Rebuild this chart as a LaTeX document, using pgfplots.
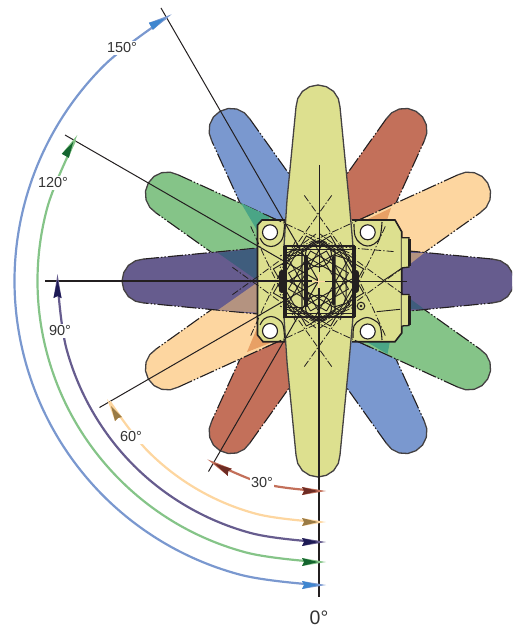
\documentclass[border=0pt]{standalone}
\usepackage{fontspec}
\usepackage{pgfplots}
\pgfplotsset{compat=1.18}
\setmainfont{Liberation Sans}
\definecolor{wingyellow}{HTML}{DDE08F}
\definecolor{wingred}{HTML}{C3705A}
\definecolor{wingpeach}{HTML}{FDD6A0}
\definecolor{wingpurple}{HTML}{665C8E}
\definecolor{winggreen}{HTML}{85C488}
\definecolor{wingblue}{HTML}{7A98CF}
\definecolor{ink}{HTML}{231F20}
\definecolor{label}{HTML}{333333}
\definecolor{HTMLteal}{HTML}{4AA586}
\definecolor{HTMLslate}{HTML}{3F5D7D}
\definecolor{HTMLtan}{HTML}{B49380}
\definecolor{HTMLorange}{HTML}{E8A065}
\definecolor{HTMLdarkred}{HTML}{6E2C24}
\definecolor{HTMLdarkpeach}{HTML}{9A7B45}
\definecolor{HTMLdarkpurple}{HTML}{1D1A55}
\definecolor{HTMLdarkgreen}{HTML}{14652F}
\definecolor{HTMLdarkblue}{HTML}{3F86CF}
% one lobe: colour, first side, cap, second side
\newcommand\lobe[4]{%
  \addplot[fill=#1,draw=none] coordinates {#2 #3 #4} --cycle;
  \addplot[ink,line width=1.1pt,line join=round,
    dash pattern=on 15pt off 2pt on 1.5pt off 2pt on 1.5pt off 2pt] coordinates {#2};
  \addplot[ink!85,line width=1.3pt,line join=round] coordinates {#3};
  \addplot[ink,line width=1.1pt,line join=round,
    dash pattern=on 15pt off 2pt on 1.5pt off 2pt on 1.5pt off 2pt] coordinates {#4};
}
% arc with arrow head: colour, dark colour, arc, head, inner head
\newcommand\arcarrow[5]{%
  \addplot[#1,line width=2.2pt,smooth,tension=0.608] coordinates {#3};
  \addplot[fill=#1,draw=none] coordinates {#4} --cycle;
  \addplot[fill=#2,draw=none] coordinates {#5} --cycle;
}
\newcommand\seg[1]{\addplot[ink,line width=0.9pt] coordinates {#1};}
\newcommand\dseg[1]{\addplot[ink,line width=0.8pt,dash pattern=on 7pt off 2pt on 1.5pt off 2pt] coordinates {#1};}
\begin{document}
\begin{tikzpicture}
\begin{axis}[
  scale only axis,width=512pt,height=628pt,
  xmin=0,xmax=512,ymin=0,ymax=628,y dir=reverse,
  hide axis,
]
% keeps the page at the full 512 by 628
\addplot[white,line width=0pt] coordinates {(0,0)(512,0)(512,628)(0,628)(0,0)};
% lobes
\lobe{wingred}{(372.4,254.7)(385.3,226.4)(424.1,141.3)}{(424.1,141.3)(426.8,133.2)(426.3,124.6)(422.5,116.9)(416,111.3)(407.9,108.5)(399.3,109)(391.6,112.8)(385.9,119.3)}{(385.9,119.3)(331.7,195.4)(313.6,220.7)}
\lobe{wingred}{(263.6,307.3)(250.7,335.6)(211.9,420.7)}{(211.9,420.7)(209.2,428.8)(209.7,437.4)(213.5,445.1)(220,450.7)(228.1,453.5)(236.7,453)(244.4,449.2)(250.1,442.7)}{(250.1,442.7)(304.3,366.6)(322.4,341.3)}
\lobe{wingblue}{(263.6,254.7)(250.7,226.4)(211.9,141.3)}{(211.9,141.3)(209.2,133.2)(209.7,124.6)(213.5,116.9)(220,111.3)(228.1,108.5)(236.7,109)(244.4,112.8)(250.1,119.3)}{(250.1,119.3)(304.3,195.4)(322.4,220.7)}
\lobe{wingblue}{(372.4,307.3)(385.3,335.6)(424.1,420.7)}{(424.1,420.7)(426.8,428.8)(426.3,437.4)(422.5,445.1)(416,450.7)(407.9,453.5)(399.3,453)(391.6,449.2)(385.9,442.7)}{(385.9,442.7)(331.7,366.6)(313.6,341.3)}
\lobe{wingpeach}{(378.3,285.4)(403.6,267.3)(479.7,213.1)}{(479.7,213.1)(486.2,207.4)(490,199.7)(490.5,191.1)(487.7,183)(482.1,176.5)(474.4,172.7)(465.8,172.2)(457.7,174.9)}{(457.7,174.9)(372.6,213.7)(344.3,226.6)}
\lobe{wingpeach}{(257.7,276.6)(232.4,294.7)(156.3,348.9)}{(156.3,348.9)(149.8,354.6)(146,362.3)(145.5,370.9)(148.3,379)(153.9,385.5)(161.6,389.3)(170.2,389.8)(178.3,387.1)}{(178.3,387.1)(263.4,348.3)(291.7,335.4)}
\lobe{winggreen}{(257.7,285.4)(232.4,267.3)(156.3,213.1)}{(156.3,213.1)(149.8,207.4)(146,199.7)(145.5,191.1)(148.3,183)(153.9,176.5)(161.6,172.7)(170.2,172.2)(178.3,174.9)}{(178.3,174.9)(263.4,213.7)(291.7,226.6)}
\lobe{winggreen}{(378.3,276.6)(403.6,294.7)(479.7,348.9)}{(479.7,348.9)(486.2,354.6)(490,362.3)(490.5,370.9)(487.7,379)(482.1,385.5)(474.4,389.3)(465.8,389.8)(457.7,387.1)}{(457.7,387.1)(372.6,348.3)(344.3,335.4)}
\lobe{wingpurple}{(368,315)(399,312)(492,303)}{(492,303)(500.4,301.3)(507.6,296.6)(512.3,289.4)(514,281)(512.3,272.6)(507.6,265.4)(500.4,260.7)(492,259)}{(492,259)(399,250)(368,247)}
\lobe{wingpurple}{(268,315)(237,312)(144,303)}{(144,303)(135.6,301.3)(128.4,296.6)(123.7,289.4)(122,281)(123.7,272.6)(128.4,265.4)(135.6,260.7)(144,259)}{(144,259)(237,250)(268,247)}
% overlaps
\addplot[fill=HTMLteal,draw=none] coordinates {(241,203)(270,217)(258,232)} --cycle;
\addplot[fill=HTMLteal,draw=none] coordinates {(365,341)(390,341)(387.5,354)} --cycle;
\addplot[fill=HTMLslate,draw=none] coordinates {(218,253)(262,248)(262,285)(258,281)} --cycle;
\addplot[fill=HTMLslate,draw=none] coordinates {(405,295)(424,309)(405,309)} --cycle;
\addplot[fill=HTMLtan,draw=none] coordinates {(218,310)(258,282)(262,280)(262,313)} --cycle;
\addplot[fill=HTMLtan,draw=none] coordinates {(405,253)(424,253)(405,268)} --cycle;
\addplot[fill=HTMLorange,draw=none] coordinates {(368,219)(391,208)(385,226)(368,226)} --cycle;
\addplot[fill=HTMLorange,draw=none] coordinates {(270,343)(247,352)(257,328)(262,328)} --cycle;
% long yellow wing
\addplot[fill=wingyellow,draw=none] coordinates {(352,231)(349,200)(340,107)(338.3,98.6)(333.6,91.4)(326.4,86.7)(318,85)(309.6,86.7)(302.4,91.4)(297.7,98.6)(296,107)(287,200)(284,231)(284,331)(287,362)(296,455)(297.7,463.4)(302.4,470.6)(309.6,475.3)(318,477)(326.4,475.3)(333.6,470.6)(338.3,463.4)(340,455)(349,362)(352,331)} --cycle;
% body
\addplot[fill=wingyellow,draw=none] coordinates {(262,220)(395,220)(401.7,231.7)(401.7,333)(395,341.7)(263,341.7)(257.5,335)(257.5,225)} --cycle;
\addplot[ink!85,line width=1.3pt] coordinates {(284,246)(287,200)(296,107)(297.7,98.6)(302.4,91.4)(309.6,86.7)(318,85)(326.4,86.7)(333.6,91.4)(338.3,98.6)(340,107)(349,200)(353,246)};
\addplot[ink!85,line width=1.3pt] coordinates {(284,317)(287,362)(296,455)(297.7,463.4)(302.4,470.6)(309.6,475.3)(318,477)(326.4,475.3)(333.6,470.6)(338.3,463.4)(340,455)(349,362)(353,317)};
\addplot[ink,line width=1.6pt] coordinates {(285,220)(262,220)(257.5,225)(257.5,335)(263,341.7)(285,341.7)};
\addplot[ink,line width=1.6pt] coordinates {(352,220)(395,220)(401.7,231.7)(401.7,333)(395,341.7)(352,341.7)};
% ears on the right
\addplot[fill=wingyellow,draw=ink,line width=1.3pt] coordinates {(401.7,237.7)(409,237.7)(409,267)(401.7,268)};
\addplot[fill=wingyellow,draw=ink,line width=1.3pt] coordinates {(401.7,294.5)(409,294.5)(409,325.5)(401.7,326)};
\addplot[ink,line width=3pt] coordinates {(409.5,239)(409.5,266)};
\addplot[ink,line width=3pt] coordinates {(409.5,296)(409.5,325)};
% axis lines of the positions
\addplot[ink,line width=1pt] coordinates {(161,8)(318.5,281)};
\addplot[ink,line width=1pt] coordinates {(65,135)(318.5,281)};
\addplot[ink,line width=1pt] coordinates {(99.5,407.5)(318.5,281)};
\addplot[ink,line width=1pt] coordinates {(208.5,471.5)(318.5,281)};
\addplot[ink,line width=1.8pt] coordinates {(45,281)(312,281)};
\addplot[ink,line width=1pt] coordinates {(325,281)(407,281)};
\addplot[ink,line width=1pt] coordinates {(319,165)(319,272)};
\addplot[ink,line width=1.9pt] coordinates {(319,288)(319,597)};
% continued edges of the turned wings
\dseg{(385.3,226.4)(372.4,254.7)(340,320)}
\dseg{(331.7,195.4)(313.6,220.7)(280,268)}
\dseg{(250.7,335.6)(263.6,307.3)(296,240)}
\dseg{(304.3,366.6)(322.4,341.3)(356,294)}
\dseg{(250.7,226.4)(263.6,254.7)(296,322)}
\dseg{(304.3,195.4)(322.4,220.7)(356,268)}
\dseg{(385.3,335.6)(372.4,307.3)(340,242)}
\dseg{(331.7,366.6)(313.6,341.3)(280,294)}
\dseg{(403.6,267.3)(378.3,285.4)(320,328)}
\dseg{(372.6,213.7)(344.3,226.6)(280,256)}
\dseg{(232.4,294.7)(257.7,276.6)(316,234)}
\dseg{(263.4,348.3)(291.7,335.4)(356,306)}
\dseg{(232.4,267.3)(257.7,285.4)(316,328)}
\dseg{(263.4,213.7)(291.7,226.6)(356,256)}
\dseg{(403.6,294.7)(378.3,276.6)(320,234)}
\dseg{(372.6,348.3)(344.3,335.4)(280,306)}
\dseg{(336.7,246.7)(395,251.7)}
\seg{(376.7,311.7)(400,309.3)}
\seg{(381.7,281.7)(401.7,268.3)}
% turned squares and bars in the middle
\seg{(330.6,326.1)(363.6,268.9)(306.4,235.9)(273.4,293.1)(330.6,326.1)}
\seg{(306.4,326.1)(273.4,268.9)(330.6,235.9)(363.6,293.1)(306.4,326.1)}
\seg{(326.5,311)(348.5,273)(310.5,251)(288.5,289)(326.5,311)}
\seg{(310.5,311)(288.5,273)(326.5,251)(348.5,289)(310.5,311)}
\seg{(349.5,257.3)(323.5,242.3)(287.5,304.7)(313.5,319.7)(349.5,257.3)}
\seg{(287.5,257.3)(313.5,242.3)(349.5,304.7)(323.5,319.7)(287.5,257.3)}
\seg{(357.2,276)(342.2,250)(279.8,286)(294.8,312)(357.2,276)}
\seg{(279.8,276)(294.8,250)(357.2,286)(342.2,312)(279.8,276)}
% centre block
\addplot[ink,line width=1.6pt] coordinates {(284,246)(354,246)(354,317)(284,317)(284,246)};
\addplot[ink,line width=1pt] coordinates {(286,249.5)(352,249.5)};
\addplot[ink,line width=1pt] coordinates {(286,313.5)(352,313.5)};
\addplot[ink,line width=3.6pt] coordinates {(285,246)(285,317)};
\addplot[ink,line width=3.6pt] coordinates {(354,246)(354,317)};
\addplot[ink,line width=6pt,line cap=round] coordinates {(281.5,273)(281.5,290)};
\addplot[ink,line width=6pt,line cap=round] coordinates {(356,273)(356,290)};
\addplot[ink,line width=4pt] coordinates {(305.5,255)(305.5,307)};
\addplot[ink,line width=3.3pt,line cap=round] coordinates {(333.5,257)(333.5,304)};
\addplot[ink,line width=1pt] coordinates {(287,255)(304,255)};
\addplot[ink,line width=1pt] coordinates {(287,307)(304,307)};
\addplot[ink,line width=1pt] coordinates {(334,255)(344,258)(346,265)(346,296)(344,304)(334,307)};
\addplot[ink,line width=1.3pt] coordinates {(318.3,241)(335,251)(335,311)(318.3,321)(302,311)(302,251)(318.3,241)};
\addplot[only marks,mark=o,mark size=13pt,mark options={ink,line width=1.1pt}] coordinates {(318.5,254)(318.5,308)};
\addplot[wingpeach,line width=0.5pt] coordinates {(312,281)(325,281)};
\addplot[wingpeach,line width=0.5pt] coordinates {(318.5,274)(318.5,288)};
% bolt holes
\addplot[ink,line width=1.1pt,smooth,tension=0.65] coordinates {(260,238)(264,244)(271,246.5)(278,244)(283,237)(284.5,224)};
\addplot[ink,line width=1.1pt,smooth,tension=0.65] coordinates {(354,224)(355,236)(360,243)(367,246)(374,244)(380,237)(382,222)};
\addplot[ink,line width=1.1pt,smooth,tension=0.65] coordinates {(260,325)(264,319)(271,316.5)(278,319)(283,325)(284.5,338)};
\addplot[ink,line width=1.1pt,smooth,tension=0.65] coordinates {(353,338)(354,326)(360,320)(367,317.5)(374,320)(380,326)(382,340)};
\addplot[only marks,mark=*,mark size=7.5pt,mark options={fill=white,draw=ink,line width=1.1pt}] coordinates {(270,232.3)(367.7,232.3)(270,331)(367.7,331.5)};
\addplot[only marks,mark=o,mark size=3.8pt,mark options={ink,line width=1pt}] coordinates {(361,306)};
\addplot[only marks,mark=*,mark size=1.2pt,mark options={fill=ink,draw=ink}] coordinates {(361,306)};
% angle arcs
\arcarrow{wingred}{HTMLdarkred}{(318.5,491)(264.1,483.8)(213.5,462.9)}{(302,487)(326,491)(302,495)(304,491)}{(302,487)(318,491)(302,495)(304,491)}
\addplot[fill=wingred,draw=none] coordinates {(231.8,468.8)(207.3,459.3)(227.8,475.8)(228.1,471.3)} --cycle;
\addplot[fill=HTMLdarkred,draw=none] coordinates {(231.8,468.8)(214.2,463.3)(227.8,475.8)(228.1,471.3)} --cycle;
\arcarrow{wingpeach}{HTMLdarkpeach}{(318.5,522)(256.1,513.8)(198,489.7)(148.1,451.4)(109.8,401.5)}{(302,518)(326,522)(302,526)(304,522)}{(302,518)(318,522)(302,526)(304,522)}
\addplot[fill=wingpeach,draw=none] coordinates {(122,417)(107,399)(115,421)(118,418)} --cycle;
\addplot[fill=HTMLdarkpeach,draw=none] coordinates {(122,417)(111,406)(115,421)(118,418)} --cycle;
\arcarrow{wingpurple}{HTMLdarkpurple}{(318.5,542)(251,533.1)(188,507)(133.9,465.6)(92.5,411.5)(66.4,348.5)(57.5,281)}{(302,538)(326,542)(302,546)(304,542)}{(302,538)(318,542)(302,546)(304,542)}
\addplot[fill=wingpurple,draw=none] coordinates {(61.5,298)(57.5,274)(53.5,298)(57.5,296)} --cycle;
\addplot[fill=HTMLdarkpurple,draw=none] coordinates {(61.5,298)(57.5,280)(53.5,298)(57.5,296)} --cycle;
\arcarrow{winggreen}{HTMLdarkgreen}{(318.5,562)(245.8,552.4)(178,524.4)(119.8,479.7)(75.1,421.5)(47.1,353.7)(37.5,281)(47.1,208.3)(75.1,140.5)}{(302,558)(326,562)(302,566)(304,562)}{(302,558)(318,562)(302,566)(304,562)}
\addplot[fill=winggreen,draw=none] coordinates {(68.8,157.8)(77.3,135)(61.8,153.8)(65.3,155.8)} --cycle;
\addplot[fill=HTMLdarkgreen,draw=none] coordinates {(68.8,157.8)(73.3,141.9)(61.8,153.8)(65.3,155.8)} --cycle;
\arcarrow{wingblue}{HTMLdarkblue}{(318.5,585)(239.8,574.6)(166.5,544.3)(103.5,496)(55.2,433)(24.9,359.7)(14.5,281)(24.9,202.3)(55.2,129)(103.5,66)(166.5,17.7)}{(302,581)(326,585)(302,589)(304,585)}{(302,581)(318,585)(302,589)(304,585)}
\addplot[fill=wingblue,draw=none] coordinates {(152.9,29.8)(171.7,14.3)(148.9,22.8)(150.9,26.3)} --cycle;
\addplot[fill=HTMLdarkblue,draw=none] coordinates {(152.9,29.8)(164.8,18.3)(148.9,22.8)(150.9,26.3)} --cycle;
% labels
\node[fill=white,inner sep=1.5pt,text=label,font=\fontsize{14.5}{16}\selectfont] at (axis cs:122,48) {150°};
\node[fill=white,inner sep=1.5pt,text=label,font=\fontsize{14.5}{16}\selectfont] at (axis cs:53,183) {120°};
\node[fill=white,inner sep=1.5pt,text=label,font=\fontsize{14.5}{16}\selectfont] at (axis cs:60,331) {90°};
\node[fill=white,inner sep=1.5pt,text=label,font=\fontsize{14.5}{16}\selectfont] at (axis cs:131,437) {60°};
\node[fill=white,inner sep=1.5pt,text=label,font=\fontsize{14.5}{16}\selectfont] at (axis cs:262,483) {30°};
\node[inner sep=0pt,text=label,font=\fontsize{19.5}{21}\selectfont] at (axis cs:319,618) {0°};
\end{axis}
\end{tikzpicture}
\end{document}
